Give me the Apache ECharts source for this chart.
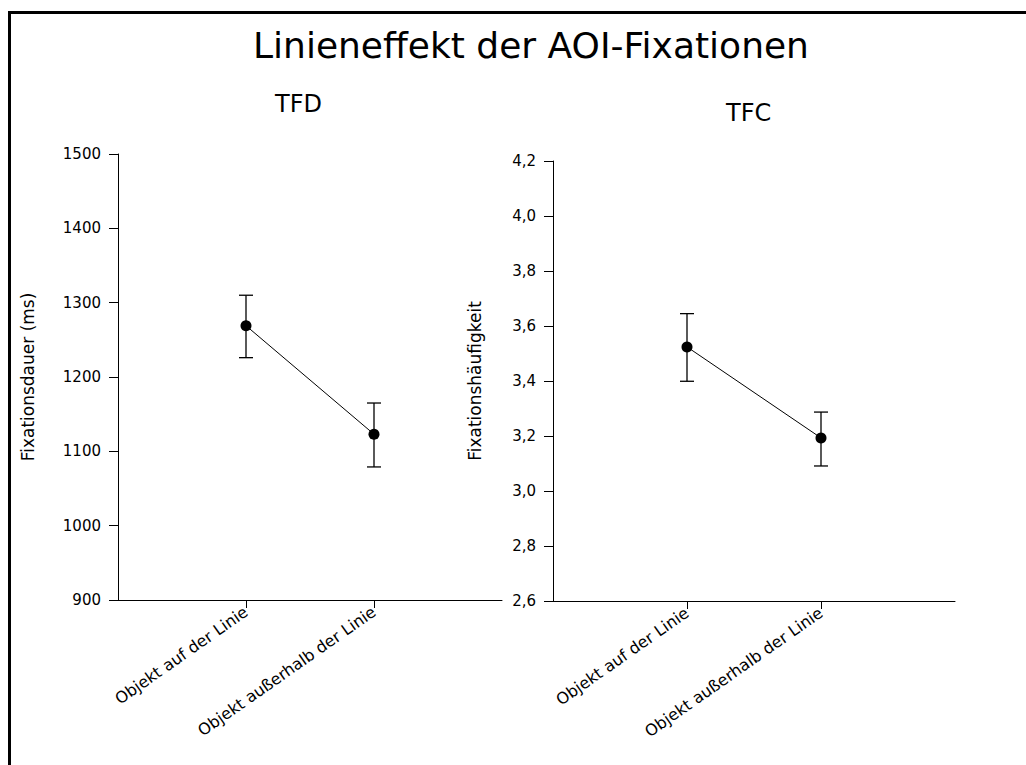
<!DOCTYPE html>
<html>
<head>
<meta charset="utf-8">
<title>Linieneffekt der AOI-Fixationen</title>
<script src="https://cdn.jsdelivr.net/npm/echarts@6/dist/echarts.min.js"></script>
<style>
  html, body { margin: 0; padding: 0; background: #fff; }
  #chart { width: 1026px; height: 765px; }
</style>
</head>
<body>
<div id="chart"></div>
<script>
// categories (padded with empty slots at both ends, like the original axis)
var categories = ['', 'Objekt auf der Linie', 'Objekt außerhalb der Linie', ''];

// TFD: mean fixation duration (ms) with error bar limits
var tfdMean = ['-', 1269, 1123, '-'];
var tfdLow = ['-', 1226, 1079, '-'];
var tfdHigh = ['-', 1310, 1165, '-'];

// TFC: mean fixation count with error bar limits
var tfcMean = ['-', 3.524, 3.193, '-'];
var tfcLow = ['-', 3.399, 3.091, '-'];
var tfcHigh = ['-', 3.645, 3.287, '-'];

var font = 'DejaVu Sans, Liberation Sans, Arial, sans-serif';
var ink = '#000';

function errorData(low, high) {
  var out = [];
  for (var i = 0; i < low.length; i++) {
    if (low[i] === '-') continue;
    out.push([i, low[i], high[i]]);
  }
  return out;
}

function renderError(params, api) {
  var x = api.value(0);
  var lo = api.coord([x, api.value(1)]);
  var hi = api.coord([x, api.value(2)]);
  var half = 7;
  var st = { stroke: ink, lineWidth: 1.3 };
  return {
    type: 'group',
    children: [
      { type: 'line', shape: { x1: lo[0], y1: lo[1], x2: hi[0], y2: hi[1] }, style: st },
      { type: 'line', shape: { x1: hi[0] - half, y1: hi[1], x2: hi[0] + half, y2: hi[1] }, style: st },
      { type: 'line', shape: { x1: lo[0] - half, y1: lo[1], x2: lo[0] + half, y2: lo[1] }, style: st }
    ]
  };
}

function xAxis(idx) {
  var shown = function(i) { return i === 1 || i === 2; };
  return {
    type: 'category',
    gridIndex: idx,
    data: categories,
    boundaryGap: false,
    axisLine: { lineStyle: { color: ink, width: 1 } },
    axisTick: { length: 8, interval: shown, lineStyle: { color: ink } },
    axisLabel: {
      interval: shown,
      rotate: 35,
      margin: 10,
      color: ink,
      fontFamily: font,
      fontSize: 16
    },
    splitLine: { show: false }
  };
}

function yAxis(idx, name, min, max, step, fmt, gap) {
  return {
    type: 'value',
    gridIndex: idx,
    min: min,
    max: max,
    interval: step,
    name: name,
    nameLocation: 'middle',
    nameGap: gap,
    nameTextStyle: { color: ink, fontFamily: font, fontSize: 17 },
    axisLine: { show: true, lineStyle: { color: ink, width: 1 } },
    axisTick: { show: true, length: 9, lineStyle: { color: ink } },
    axisLabel: { color: ink, fontFamily: font, fontSize: 15, margin: 17, formatter: fmt },
    splitLine: { show: false }
  };
}

var chart = echarts.init(document.getElementById('chart'), null, { renderer: 'svg' });
chart.setOption({
  animation: false,
  backgroundColor: '#fff',
  title: [
    { text: 'Linieneffekt der AOI-Fixationen', left: 253, top: 27, padding: 0,
      textStyle: { color: ink, fontFamily: font, fontSize: 36, fontWeight: 'normal' } },
    { text: 'TFD', left: 275, top: 92, padding: 0,
      textStyle: { color: ink, fontFamily: font, fontSize: 24, fontWeight: 'normal' } },
    { text: 'TFC', left: 726, top: 101, padding: 0,
      textStyle: { color: ink, fontFamily: font, fontSize: 24, fontWeight: 'normal' } }
  ],
  graphic: [
    { type: 'line', shape: { x1: 9.5, y1: 11, x2: 9.5, y2: 765 }, style: { stroke: ink, lineWidth: 3 } },
    { type: 'line', shape: { x1: 8, y1: 12.5, x2: 1026, y2: 12.5 }, style: { stroke: ink, lineWidth: 3 } }
  ],
  grid: [
    { left: 118, top: 154, width: 384, height: 446 },
    { left: 553, top: 161, width: 402, height: 440 }
  ],
  xAxis: [xAxis(0), xAxis(1)],
  yAxis: [
    yAxis(0, 'Fixationsdauer (ms)', 900, 1500, 100, function(v) { return String(v); }, 82),
    yAxis(1, 'Fixationshäufigkeit', 2.6, 4.2, 0.2, function(v) { return v.toFixed(1).replace('.', ','); }, 70)
  ],
  series: [
    {
      type: 'line', xAxisIndex: 0, yAxisIndex: 0, data: tfdMean,
      symbol: 'circle', symbolSize: 11, connectNulls: true,
      lineStyle: { color: ink, width: 1 }, itemStyle: { color: ink }, z: 3
    },
    {
      type: 'custom', xAxisIndex: 0, yAxisIndex: 0,
      data: errorData(tfdLow, tfdHigh), renderItem: renderError, z: 2
    },
    {
      type: 'line', xAxisIndex: 1, yAxisIndex: 1, data: tfcMean,
      symbol: 'circle', symbolSize: 11, connectNulls: true,
      lineStyle: { color: ink, width: 1 }, itemStyle: { color: ink }, z: 3
    },
    {
      type: 'custom', xAxisIndex: 1, yAxisIndex: 1,
      data: errorData(tfcLow, tfcHigh), renderItem: renderError, z: 2
    }
  ]
});

window.addEventListener('resize', function() { chart.resize(); });
</script>
</body>
</html>
